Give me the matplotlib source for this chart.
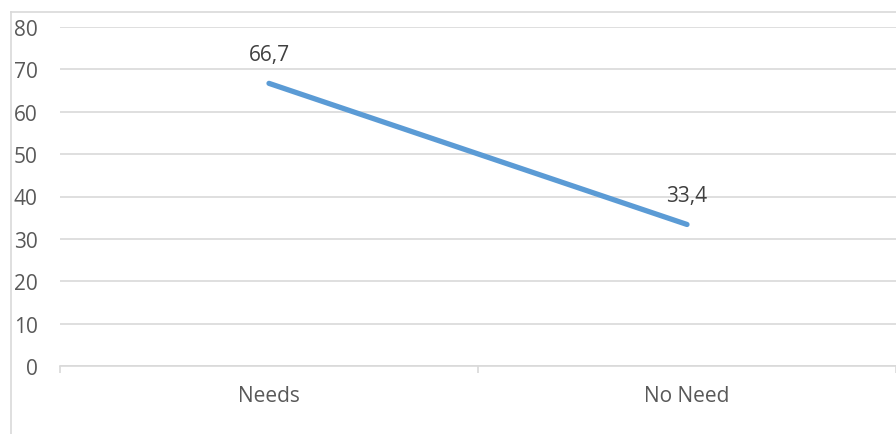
import matplotlib.pyplot as plt
from matplotlib.lines import Line2D

categories = ["Needs", "No Need"]
values = [66.7, 33.4]
value_labels = ["66,7", "33,4"]
y_ticks = [0, 10, 20, 30, 40, 50, 60, 70, 80]

plt.rcParams['font.family'] = ['Open Sans', 'DejaVu Sans']

W, H = 896, 435
fig = plt.figure(figsize=(W / 100, H / 100), dpi=100)
fig.patch.set_facecolor('white')

# outer chart frame (left and top edges)
border = '#D9D9D9'
fig.add_artist(Line2D([10.5 / W, 10.5 / W], [0, 1 - 13 / H], color=border, lw=1.2,
                      transform=fig.transFigure))
fig.add_artist(Line2D([10.5 / W, 1], [1 - 13 / H, 1 - 13 / H], color=border, lw=1.2,
                      transform=fig.transFigure))

left, right = 60 / W, 896 / W
bottom, top = 1 - 367 / H, 1 - 28 / H
ax = fig.add_axes([left, bottom, right - left, top - bottom])

x = list(range(len(categories)))
ax.plot(x, values, color='#5B9BD5', lw=3.8, solid_capstyle='round')

for xi, v, lab in zip(x, values, value_labels):
    ax.annotate(lab, (xi, v), xytext=(0, 13), textcoords='offset points',
                ha='center', va='bottom', fontsize=15, color='#404040')

ax.set_xlim(-0.5, len(categories) - 0.5)
ax.set_ylim(0, 80)
ax.set_yticks(y_ticks)
ax.set_yticklabels([str(t) for t in y_ticks])
ax.yaxis.grid(True, color='#D9D9D9', lw=1.2)
ax.set_axisbelow(True)

# category boundary ticks, labels centred on categories
ax.set_xticks([i - 0.5 for i in range(len(categories) + 1)])
ax.set_xticklabels([])
ax.set_xticks(x, minor=True)
ax.set_xticklabels(categories, minor=True)
ax.tick_params(axis='x', which='major', length=5, color='#D9D9D9', width=1.2)
ax.tick_params(axis='x', which='minor', length=0, pad=14, labelsize=15, labelcolor='#595959')
ax.tick_params(axis='y', length=0, pad=16, labelsize=15, labelcolor='#595959')

for s in ['top', 'right', 'left']:
    ax.spines[s].set_visible(False)
ax.spines['bottom'].set_color('#D9D9D9')
ax.spines['bottom'].set_linewidth(1.2)

fig.savefig('out.png', dpi=100)
